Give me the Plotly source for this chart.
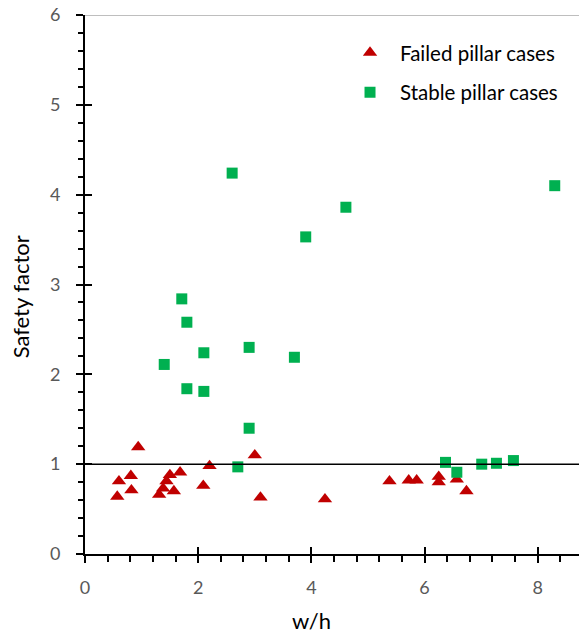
import plotly.graph_objects as go

# Failed pillar cases (w/h, safety factor)
failed_x = [0.57, 0.60, 0.81, 0.82, 0.94, 1.31, 1.38, 1.44, 1.50, 1.57, 1.68,
            2.09, 2.20, 3.00, 3.10, 4.24, 5.38, 5.72, 5.86, 6.25, 6.25, 6.57, 6.74]
failed_y = [0.64, 0.81, 0.87, 0.71, 1.19, 0.66, 0.73, 0.81, 0.88, 0.70, 0.91,
            0.76, 0.98, 1.10, 0.63, 0.61, 0.81, 0.82, 0.82, 0.86, 0.80, 0.83, 0.70]

# Stable pillar cases
stable_x = [1.40, 1.71, 1.80, 1.80, 2.10, 2.10, 2.60, 2.70, 2.90, 2.90, 3.70,
            3.90, 4.61, 6.37, 6.57, 7.01, 7.27, 7.57, 8.30]
stable_y = [2.11, 2.84, 2.58, 1.84, 2.24, 1.81, 4.24, 0.97, 2.30, 1.40, 2.19,
            3.53, 3.86, 1.02, 0.91, 1.00, 1.01, 1.04, 4.10]

x_range = [0, 8.87]
y_range = [0, 6]
x_ticks = [0, 2, 4, 6, 8]
y_ticks = [0, 1, 2, 3, 4, 5, 6]
threshold = 1

FONT = "Lato"
RED = "#C00000"
GREEN = "#00B050"

fig = go.Figure()
fig.add_trace(go.Scatter(
    x=failed_x, y=failed_y, mode="markers", name="Failed pillar cases",
    legendgroup="a",
    marker=dict(symbol="triangle-up", size=12.5, color=RED),
))
fig.add_trace(go.Scatter(
    x=stable_x, y=stable_y, mode="markers", name="Stable pillar cases",
    legendgroup="b",
    marker=dict(symbol="square", size=11, color=GREEN),
))
# invisible helper trace for overlay axes (inside tick halves)
fig.add_trace(go.Scatter(x=[None], y=[None], xaxis="x2", yaxis="y2",
                         showlegend=False, hoverinfo="skip"))

# threshold line at safety factor 1
fig.add_shape(type="line", xref="paper", x0=0, x1=1, yref="y",
              y0=threshold, y1=threshold, line=dict(color="black", width=1.5))
# top border
fig.add_shape(type="line", xref="paper", x0=0, x1=1, yref="y",
              y0=y_range[1], y1=y_range[1], line=dict(color="#7f7f7f", width=1.2))

tickfont = dict(family=FONT, size=18, color="#595959")

# page body has an 8px margin; figure is sized/offset to compensate
fig.update_layout(
    width=579, height=627,
    margin=dict(l=77, r=0, t=7, b=81, autoexpand=False),
    paper_bgcolor="white", plot_bgcolor="white",
    font=dict(family=FONT),
    showlegend=True,
    legend=dict(x=0.508, y=0.967, xanchor="left", yanchor="top",
                font=dict(family=FONT, size=20.5, color="black"),
                itemwidth=50,
                bgcolor="rgba(0,0,0,0)", tracegroupgap=10),
    xaxis=dict(range=x_range, tickvals=x_ticks, showgrid=False, zeroline=False,
               showline=True, linecolor="black", linewidth=2,
               ticks="outside", ticklen=7, tickwidth=2, tickcolor="black",
               minor=dict(dtick=0.4, ticks="outside", ticklen=6, tickwidth=1.5,
                          tickcolor="black", showgrid=False),
               tickfont=tickfont, ticklabelstandoff=9,
               ticklabeloverflow="allow", automargin=False),
    yaxis=dict(range=y_range, tickvals=y_ticks, showgrid=False, zeroline=False,
               showline=True, linecolor="black", linewidth=2,
               ticks="outside", ticklen=7, tickwidth=2, tickcolor="black",
               minor=dict(dtick=0.2, ticks="outside", ticklen=5, tickwidth=1.5,
                          tickcolor="black", showgrid=False),
               tickfont=tickfont, ticklabelstandoff=12,
               ticklabeloverflow="allow", automargin=False),
    xaxis2=dict(range=x_range, tickvals=x_ticks, overlaying="x", anchor="y2",
                side="bottom", showgrid=False, zeroline=False, showline=False,
                ticks="inside", ticklen=7, tickwidth=2, tickcolor="black",
                showticklabels=False, automargin=False),
    yaxis2=dict(range=y_range, tickvals=y_ticks, overlaying="y", anchor="x2",
                side="left", showgrid=False, zeroline=False, showline=False,
                ticks="inside", ticklen=7, tickwidth=2, tickcolor="black",
                showticklabels=False, automargin=False),
    annotations=[
        dict(text="w/h", xref="x", x=4.0, yref="paper", y=-0.124,
             xanchor="center", yanchor="middle", showarrow=False,
             font=dict(family=FONT, size=22, color="black")),
        dict(text="Safety factor", xref="paper", x=-0.129, yref="y", y=2.86,
             xanchor="center", yanchor="middle", textangle=-90, showarrow=False,
             font=dict(family=FONT, size=22, color="black")),
    ],
)

fig.write_html("out.html")
